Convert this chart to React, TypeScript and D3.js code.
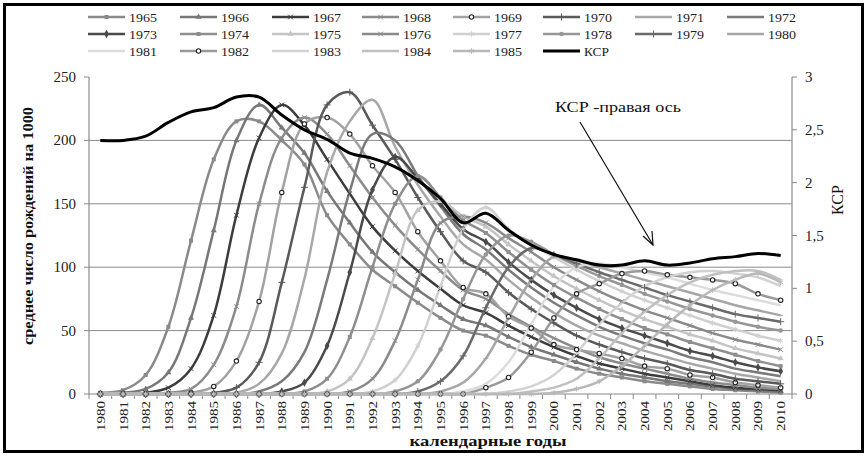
import React from "react";
import * as d3 from "d3";

const years = [1980,1981,1982,1983,1984,1985,1986,1987,1988,1989,1990,1991,1992,1993,1994,1995,1996,1997,1998,1999,2000,2001,2002,2003,2004,2005,2006,2007,2008,2009,2010];

const c1965 = [1,3,15,53,121,185,215,215,200,181,141,118,98,85,72,60,50,46,38,31,26,20,16,13,10,8,6,4,3,2,1];
const c1966 = [0,1,4,17,60,129,200,228,210,190,160,135,112,96,82,70,59,54,45,37,31,25,20,16,13,10,8,6,4,3,2];
const c1967 = [0,0,1,5,20,62,141,202,228,212,185,158,132,113,97,83,70,64,54,45,37,30,24,20,16,13,10,7,5,4,3];
const c1968 = [0,0,0,1,4,23,69,150,202,218,205,180,155,133,114,97,82,75,63,53,44,36,29,24,20,16,12,9,7,5,4];
const c1969 = [0,0,0,0,1,6,26,73,159,213,218,205,180,159,128,105,84,79,61,52,39,35,32,28,22,20,15,13,9,7,5];
const c1970 = [0,0,0,0,0,1,5,25,88,163,228,238,212,185,155,128,105,96,80,67,56,46,39,33,28,24,19,16,12,10,8];
const c1971 = [0,0,0,0,0,0,1,8,32,91,175,215,232,195,165,140,118,106,90,76,64,54,46,40,34,29,24,20,16,13,10];
const c1972 = [0,0,0,0,0,0,0,2,10,33,90,160,205,200,172,148,126,114,98,84,72,62,53,46,40,35,29,25,20,17,14];
const c1973 = [0,0,0,0,0,0,0,0,2,9,38,96,161,187,170,150,130,120,104,90,78,68,59,52,46,40,34,30,25,21,18];
const c1974 = [0,0,0,0,0,0,0,0,0,2,12,45,100,150,172,155,137,127,112,98,86,76,67,59,52,47,41,36,31,26,22];
const c1975 = [0,0,0,0,0,0,0,0,0,0,2,12,44,95,145,152,140,132,118,105,93,83,74,66,59,53,47,42,36,32,28];
const c1976 = [0,0,0,0,0,0,0,0,0,0,0,2,12,42,90,135,140,135,123,112,100,90,81,73,66,60,54,48,43,39,35];
const c1977 = [0,0,0,0,0,0,0,0,0,0,0,0,2,11,38,85,130,147,130,118,108,98,89,81,74,68,62,56,51,46,42];
const c1978 = [0,0,0,0,0,0,0,0,0,0,0,0,0,2,10,35,75,110,125,120,110,101,93,86,79,73,67,62,57,53,50];
const c1979 = [0,0,0,0,0,0,0,0,0,0,0,0,0,0,2,10,30,68,100,115,110,103,96,90,84,78,73,68,63,60,57];
const c1980 = [0,0,0,0,0,0,0,0,0,0,0,0,0,0,0,2,9,28,60,90,108,105,100,95,90,85,80,75,70,66,62];
const c1981 = [0,0,0,0,0,0,0,0,0,0,0,0,0,0,0,0,2,8,25,55,85,100,103,100,96,92,87,82,78,74,70];
const c1982 = [0,0,0,0,0,0,0,0,0,0,0,0,0,0,0,0,0,5,13,33,60,79,87,95,97,94,92,90,87,79,74];
const c1983 = [0,0,0,0,0,0,0,0,0,0,0,0,0,0,0,0,0,0,2,6,15,32,55,72,85,92,96,97,95,92,85];
const c1984 = [0,0,0,0,0,0,0,0,0,0,0,0,0,0,0,0,0,0,0,2,5,12,28,48,65,78,88,94,97,97,90];
const c1985 = [0,0,0,0,0,0,0,0,0,0,0,0,0,0,0,0,0,0,0,0,1,4,10,22,38,55,70,82,90,95,88];

const ksr = [2.40,2.40,2.44,2.57,2.67,2.71,2.81,2.81,2.64,2.50,2.41,2.28,2.23,2.15,2.02,1.85,1.62,1.71,1.55,1.41,1.32,1.27,1.22,1.22,1.26,1.22,1.24,1.28,1.30,1.33,1.31];

const cohortNames = ["1965","1966","1967","1968","1969","1970","1971","1972","1973","1974","1975","1976","1977","1978","1979","1980","1981","1982","1983","1984","1985"];
const cohortValues = [c1965,c1966,c1967,c1968,c1969,c1970,c1971,c1972,c1973,c1974,c1975,c1976,c1977,c1978,c1979,c1980,c1981,c1982,c1983,c1984,c1985];
const cohortColors = ["#8a8a8a","#777777","#3c3c3c","#8c8c8c","#a2a2a2","#5a5a5a","#a8a8a8","#7a7a7a","#4a4a4a","#8e8e8e","#c4c4c4","#8a8a8a","#d0d0d0","#969696","#6a6a6a","#a6a6a6","#dcdcdc","#9a9a9a","#d2d2d2","#c0c0c0","#b8b8b8"];
const cohortMarkers = ["square","triangle","times","times","ocircle","plus","none","none","diamond","square","triangle","times","asterisk","circle","plus","dash","none","ocircle","none","dash","asterisk"];

const leftTicks = [0,50,100,150,200,250];
const rightTicks = [0,0.5,1,1.5,2,2.5,3];
const rightTickLabels = ["0","0,5","1","1,5","2","2,5","3"];

const FONT = "'Liberation Serif', 'Times New Roman', serif";

function Marker({ kind, x, y, color }: { kind: string; x: number; y: number; color: string }) {
  const t = `translate(${x},${y})`;
  if (kind === "none") return null;
  if (kind === "square") return <path transform={t} d={d3.symbol(d3.symbolSquare, 16)()!} fill={color} />;
  if (kind === "triangle") return <path transform={t} d={d3.symbol(d3.symbolTriangle, 16)()!} fill={color} />;
  if (kind === "diamond") return <path transform={t} d={d3.symbol(d3.symbolDiamond, 20)()!} fill={color} />;
  if (kind === "circle") return <path transform={t} d={d3.symbol(d3.symbolCircle, 16)()!} fill={color} />;
  if (kind === "ocircle") return <circle cx={x} cy={y} r={2.2} fill="#ffffff" stroke="#222" strokeWidth={1.1} />;
  if (kind === "times") return <path transform={t} d={d3.symbol(d3.symbolTimes, 16)()!} fill="none" stroke={color} strokeWidth={1} />;
  if (kind === "plus") return <path transform={t} d={d3.symbol(d3.symbolPlus, 18)()!} fill="none" stroke={color} strokeWidth={1} />;
  if (kind === "asterisk") return <path transform={t} d={d3.symbol(d3.symbolAsterisk, 20)()!} fill="none" stroke={color} strokeWidth={1} />;
  if (kind === "dash") return <path transform={t} d="M-2.5,0H2.5" fill="none" stroke={color} strokeWidth={1} />;
  return null;
}

export default function App() {
  const W = 867, H = 456;
  const left = 89, right = 792, top = 77, bottom = 394;
  const x = d3.scalePoint<number>().domain(years).range([left, right]).padding(0.5);
  const yL = d3.scaleLinear().domain([0, 250]).range([bottom, top]);
  const yR = d3.scaleLinear().domain([0, 3]).range([bottom, top]);
  const step = x.step();

  const lineL = d3.line<number>().x((_, i) => x(years[i])!).y((d) => yL(d)).curve(d3.curveCatmullRom.alpha(0.5));
  const lineR = d3.line<number>().x((_, i) => x(years[i])!).y((d) => yR(d)).curve(d3.curveCatmullRom.alpha(0.5));

  const legendColX = [88, 180, 272, 362, 453, 543, 635, 727];
  const legendRowY = [17, 34, 51];
  const legendItems = cohortNames.map((n, i) => ({ name: n, color: cohortColors[i], marker: cohortMarkers[i], black: false }));
  legendItems.push({ name: "КСР", color: "#000", marker: "none", black: true });

  return (
    <svg width={W} height={H} style={{ display: "block", position: "absolute", left: 0, top: 0, background: "#fff" }} fontFamily={FONT}>
      <rect x={0} y={0} width={W} height={H} fill="#fff" />
      <rect x={4.5} y={4.5} width={858} height={447} fill="none" stroke="#000" strokeWidth={3} />

      {legendItems.map((it, i) => {
        const col = i % 8, row = Math.floor(i / 8);
        const lx = legendColX[col], ly = legendRowY[row];
        return (
          <g key={"lg" + i}>
            <line x1={lx} x2={lx + 37} y1={ly} y2={ly} stroke={it.color} strokeWidth={it.black ? 3 : 2.5} />
            <Marker kind={it.marker} x={lx + 18.5} y={ly} color={it.marker === "ocircle" ? "#222" : it.color} />
            <text x={lx + 41} y={ly + 4.5} fontSize={12.5} fill="#222" textLength={it.black ? 25 : 28} lengthAdjust="spacingAndGlyphs">{it.name}</text>
          </g>
        );
      })}

      {leftTicks.filter((t) => t > 0 && t < 250).map((t) => (
        <line key={"g" + t} x1={left} x2={right} y1={yL(t)} y2={yL(t)} stroke="#8a8a8a" strokeWidth={1} />
      ))}

      <line x1={left} x2={left} y1={top} y2={bottom} stroke="#8a8a8a" strokeWidth={1.2} />
      <line x1={right} x2={right} y1={top} y2={bottom} stroke="#8a8a8a" strokeWidth={1.2} />
      <line x1={left} x2={right} y1={bottom} y2={bottom} stroke="#8a8a8a" strokeWidth={1.2} />
      {leftTicks.map((t) => (
        <g key={"lt" + t}>
          <line x1={left - 5} x2={left} y1={yL(t)} y2={yL(t)} stroke="#8a8a8a" />
          <text x={76} y={yL(t) + 5} fontSize={15} textAnchor="end" fill="#222">{t}</text>
        </g>
      ))}
      {rightTicks.map((t, i) => (
        <g key={"rt" + t}>
          <line x1={right} x2={right + 5} y1={yR(t)} y2={yR(t)} stroke="#8a8a8a" />
          <text x={805} y={yR(t) + 5} fontSize={15} fill="#222">{rightTickLabels[i]}</text>
        </g>
      ))}
      {years.map((yr, i) => (
        <line key={"xt" + yr} x1={left + step * i} x2={left + step * i} y1={bottom} y2={bottom + 5} stroke="#8a8a8a" />
      ))}
      <line x1={right} x2={right} y1={bottom} y2={bottom + 5} stroke="#8a8a8a" />
      {years.map((yr) => (
        <text key={"xl" + yr} transform={`translate(${x(yr)! + 4.5},${401}) rotate(-90)`} fontSize={12.5} textAnchor="end" fill="#222" textLength={30} lengthAdjust="spacingAndGlyphs">{yr}</text>
      ))}

      {cohortValues.map((vals, si) => (
        <path key={"s" + si} d={lineL(vals)!} fill="none" stroke={cohortColors[si]} strokeWidth={2.5} strokeLinejoin="round" />
      ))}
      {cohortValues.map((vals, si) => (
        <g key={"m" + si}>
          {vals.map((v, i) => (
            <Marker key={i} kind={cohortMarkers[si]} x={x(years[i])!} y={yL(v)} color={cohortMarkers[si] === "ocircle" ? "#222" : cohortColors[si]} />
          ))}
        </g>
      ))}
      <path d={lineR(ksr)!} fill="none" stroke="#000" strokeWidth={3} strokeLinejoin="round" />

      <text x={555} y={112} fontSize={15} fill="#111" textLength={126} lengthAdjust="spacingAndGlyphs">КСР -правая ось</text>
      <line x1={580} y1={122} x2={653} y2={245} stroke="#111" strokeWidth={1.2} />
      <path d="M643,236 L653,245 L652,231" fill="none" stroke="#111" strokeWidth={1.2} />

      <text transform="translate(33,226) rotate(-90)" fontSize={15} fontWeight="bold" textAnchor="middle" fill="#111" textLength={238} lengthAdjust="spacingAndGlyphs">среднее число рождений на 1000</text>
      <text transform="translate(843,200) rotate(-90)" fontSize={16} textAnchor="middle" fill="#111">КСР</text>
      <text x={488} y={446} fontSize={15} fontWeight="bold" textAnchor="middle" fill="#111" textLength={157} lengthAdjust="spacingAndGlyphs">календарные годы</text>
    </svg>
  );
}
